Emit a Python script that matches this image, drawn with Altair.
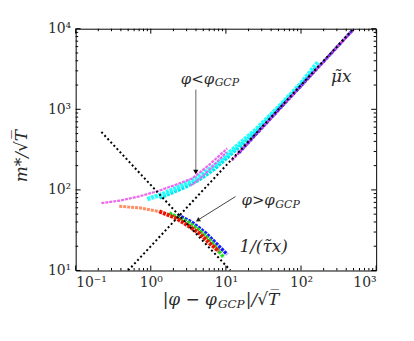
import altair as alt
import pandas as pd
import math

W, H = 302, 243
XD = [0.1, 1000]
YD = [10, 10000]
FONT = "DejaVu Serif"
TXT = "#2a2a2a"

# ---- data ----
mu_x = [0.5, 500]
mu_y = [10, 10000]
tau_x = [0.22, 11.5]
tau_y = [523, 10]

mag1_x = [0.22, 0.4, 0.7, 1.17, 2.0, 3.58, 6.0, 10.4]
mag1_y = [68.5, 74, 83, 95, 113, 139, 205, 327]
mag2_x = [3.4, 5.0, 7.0, 10.2]
mag2_y = [113, 150, 205, 295]
mag3_x = [12, 30, 100, 300, 500]
mag3_y = [232, 585, 1950, 5850, 9750]

cyan1_x = [0.9, 1.5, 2.16, 3.0, 4.39, 7.0, 12.1, 25, 50.3, 100, 170]
cyan1_y = [77, 90, 105, 122, 146, 200, 312, 560, 1068, 2100, 3900]
cyan2_x = [1.3, 2.0, 3.0, 4.5, 7.0, 12, 25, 50, 100, 160]
cyan2_y = [80, 94, 111, 136, 182, 285, 525, 1020, 2000, 3300]

blueu_x = [15, 40, 100, 250, 495]
blueu_y = [290, 780, 1950, 4900, 9800]

orange_x = [0.38, 0.7, 1.3]
orange_y = [62.5, 60, 54]
red_x = [1.3, 2.16, 3.0, 4.39, 6.0, 8.07]
red_y = [54, 44.7, 37, 29.2, 22, 17.3]
green_x = [1.76, 3.0, 4.39, 6.5, 9.4]
green_y = [51.5, 41, 32, 22.5, 14.4]
bluel_x = [2.27, 3.5, 5.38, 7.5, 10.4]
bluel_y = [49, 40, 29.2, 21.5, 15.8]

x_major = [0.1, 1, 10, 100, 1000]
x_labels = ["10⁻¹", "10⁰", "10¹", "10²", "10³"]
y_major = [10, 100, 1000, 10000]
y_labels = ["10¹", "10²", "10³", "10⁴"]

xs = alt.Scale(type="log", domain=XD)
ys = alt.Scale(type="log", domain=YD)


def lab_expr(vals, labs):
    parts = [f"abs(log(datum.value)/LN10 - {math.log10(v):.3f}) < 0.01 ? '{l}'"
             for v, l in zip(vals, labs)]
    return " : ".join(parts) + " : ''"


XAX = alt.Axis(values=x_major, ticks=False, domain=False, grid=False, title=None,
               labelFont=FONT, labelFontSize=14, labelColor=TXT, labelPadding=5,
               labelExpr=lab_expr(x_major, x_labels))
YAX = alt.Axis(values=y_major, ticks=False, domain=False, grid=False, title=None,
               labelFont=FONT, labelFontSize=14, labelColor=TXT, labelPadding=5,
               labelExpr=lab_expr(y_major, y_labels))


def X():
    return alt.X("x:Q", scale=xs, axis=XAX)


def Y():
    return alt.Y("y:Q", scale=ys, axis=YAX)


def series(xv, yv, color, width, dash=None, opacity=1):
    df = pd.DataFrame({"x": xv, "y": yv})
    kw = dict(color=color, strokeWidth=width, clip=True, opacity=opacity)
    if dash:
        kw["strokeDash"] = dash
    return alt.Chart(df).mark_line(**kw).encode(x=X(), y=Y(), order=alt.Order("x:Q"))


layers = []
# coloured curves
layers.append(series(cyan2_x, cyan2_y, "#00e5ee", 4, [3, 1]))
layers.append(series(cyan1_x, cyan1_y, "#22ffff", 4.5, [3, 1]))
layers.append(series(mag1_x, mag1_y, "#ee66ee", 2.2, [3, 1]))
layers.append(series(mag2_x, mag2_y, "#ee66ee", 2, [3, 1]))
layers.append(series(blueu_x, blueu_y, "#2222ff", 3, [3, 1]))
layers.append(series(mag3_x, mag3_y, "#cc44dd", 2.5, [3, 1]))
layers.append(series(bluel_x, bluel_y, "#1a1aff", 3.5, [3, 1]))
layers.append(series(green_x, green_y, "#22dd22", 3.5, [3, 1]))
layers.append(series(orange_x, orange_y, "#ff7a4a", 3, [3, 1], 0.85))
layers.append(series(red_x, red_y, "#ee1100", 4, [3, 1]))
# dotted guide lines on top
layers.append(series(mu_x, mu_y, "black", 2, [2, 2.5]))
layers.append(series(tau_x, tau_y, "black", 2, [2, 2.5]))

# ---- ticks (inside, all four sides) ----
x_minor = [k * d for d in [0.1, 1, 10, 100] for k in range(2, 10)]
y_minor = [k * d for d in [10, 100, 1000] for k in range(2, 10)]


def xticks(vals, ln):
    df = pd.DataFrame({"x": vals})
    b = alt.Chart(df).mark_rule(color="black", strokeWidth=1).encode(
        x=X(), y=alt.value(H), y2=alt.value(H - ln))
    t = alt.Chart(df).mark_rule(color="black", strokeWidth=1).encode(
        x=X(), y=alt.value(0), y2=alt.value(ln))
    return [b, t]


def yticks(vals, ln):
    df = pd.DataFrame({"y": vals})
    l = alt.Chart(df).mark_rule(color="black", strokeWidth=1).encode(
        y=Y(), x=alt.value(0), x2=alt.value(ln))
    r = alt.Chart(df).mark_rule(color="black", strokeWidth=1).encode(
        y=Y(), x=alt.value(W), x2=alt.value(W - ln))
    return [l, r]


layers += xticks(x_major, 5) + xticks(x_minor, 2.5) + yticks(y_major, 5) + yticks(y_minor, 2.5)

# ---- annotations ----
arr1 = pd.DataFrame({"x": [3.97, 3.97], "y": [1766, 168]})
layers.append(alt.Chart(arr1).mark_line(color="#999999", strokeWidth=1.5).encode(x=X(), y=Y()))
head1 = pd.DataFrame({"x": [3.97], "y": [170]})
layers.append(alt.Chart(head1).mark_point(shape="triangle", filled=True, color="black",
                                          size=28, angle=180, opacity=1).encode(x=X(), y=Y()))
arr2 = pd.DataFrame({"x": [13.4, 4.2], "y": [82.6, 42]})
layers.append(alt.Chart(arr2).mark_line(color="#444444", strokeWidth=1).encode(x=X(), y=Y()))
head2 = pd.DataFrame({"x": [4.3], "y": [42.5]})
layers.append(alt.Chart(head2).mark_point(shape="triangle", filled=True, color="#222",
                                          size=26, angle=238, opacity=1).encode(x=X(), y=Y()))


def label(x, y, txt, size=16, align="left", dx=0, dy=0, style="italic"):
    df = pd.DataFrame({"x": [x], "y": [y], "t": [txt]})
    return alt.Chart(df).mark_text(font=FONT, fontSize=size, fontStyle=style, align=align,
                                   baseline="alphabetic", dx=dx, dy=dy, color=TXT).encode(
        x=X(), y=Y(), text="t:N")


layers.append(label(2.51, 2090, "φ<φ", 15))
layers.append(label(2.51, 2090, "GCP", 11, dx=34, dy=3))
layers.append(label(16.1, 65.3, "φ>φ", 15))
layers.append(label(16.1, 65.3, "GCP", 11, dx=34, dy=3))
layers.append(label(344, 2154, "μ̃x", 17, align="center"))
layers.append(label(31.8, 17.2, "1/(τ̃x)", 17, align="center"))


def ptext(px, py, txt, size, align="left", angle=0, style="italic"):
    df = pd.DataFrame({"t": [txt]})
    return alt.Chart(df).mark_text(font=FONT, fontSize=size, fontStyle=style, align=align,
                                   baseline="alphabetic", angle=angle, color=TXT).encode(
        x=alt.value(px), y=alt.value(py), text="t:N")


# axis titles
layers.append(ptext(142, 278, "|φ − φ", 17, align="right"))
layers.append(ptext(143, 281, "GCP", 12))
layers.append(ptext(171, 278, "|/√T̅", 17))
layers.append(ptext(-49, 128, "m*/√T̅", 17, align="center", angle=270))

chart = alt.layer(*layers).properties(
    width=W, height=H,
    autosize=alt.AutoSizeParams(type="none"),
    padding={"left": 68, "top": 20, "right": 30, "bottom": 60},
).configure_view(stroke="black", strokeWidth=1)

chart.save("out.html", embed_options={"renderer": "svg", "actions": False})
